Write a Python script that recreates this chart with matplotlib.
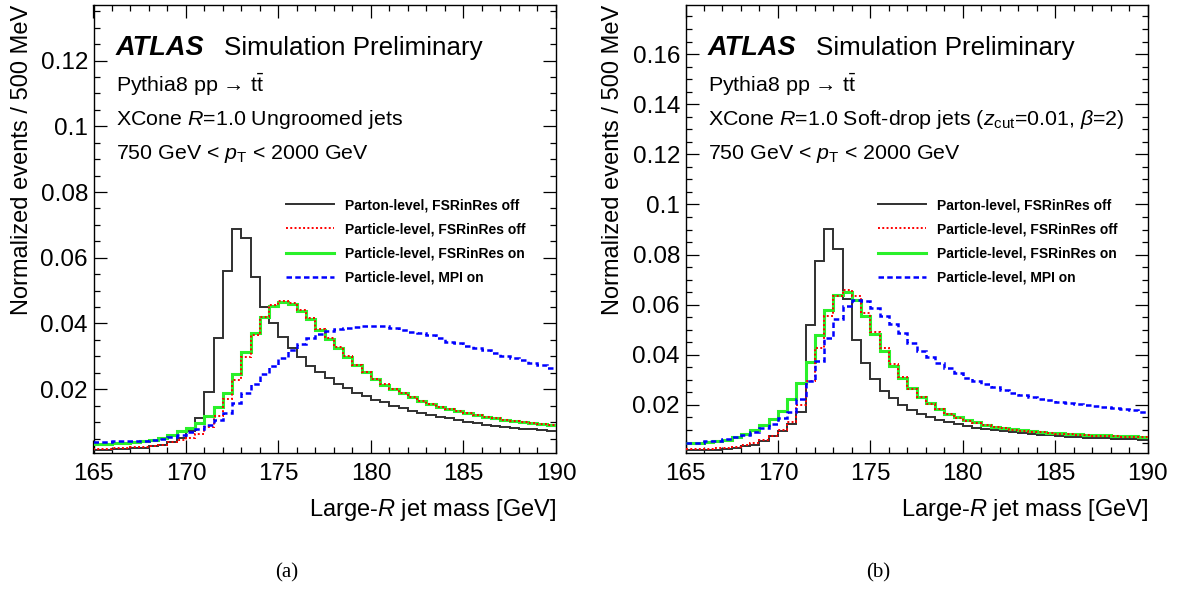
import numpy as np
import matplotlib
matplotlib.use("Agg")
import matplotlib.pyplot as plt
from matplotlib.ticker import MultipleLocator, FuncFormatter

plt.rcParams['font.family'] = ['Liberation Sans', 'DejaVu Sans']
plt.rcParams['mathtext.fontset'] = 'custom'
plt.rcParams['mathtext.rm'] = 'Liberation Sans'
plt.rcParams['mathtext.it'] = 'Liberation Sans:italic'
plt.rcParams['mathtext.bf'] = 'Liberation Sans:bold'

# ---------------- data (0.5 GeV bins, 165-190 GeV) ----------------
edges = np.arange(165.0, 190.01, 0.5)

# (a) ungroomed jets
parton_a = [0.0015, 0.0016, 0.0017, 0.0018, 0.0020, 0.0022, 0.0026, 0.0030, 0.0040, 0.0052,
            0.0073, 0.0112, 0.0193, 0.0355, 0.0560, 0.0686, 0.0659, 0.0542, 0.0451, 0.0401,
            0.0360, 0.0325, 0.0297, 0.0272, 0.0252, 0.0233, 0.0216, 0.0203, 0.0190, 0.0178,
            0.0168, 0.0160, 0.0150, 0.0142, 0.0135, 0.0128, 0.0122, 0.0116, 0.0111, 0.0106,
            0.0101, 0.0097, 0.0092, 0.0089, 0.0086, 0.0083, 0.0080, 0.0078, 0.0075, 0.0073]
fsroff_a = [0.0018, 0.0018, 0.0020, 0.0021, 0.0023, 0.0025, 0.0028, 0.0031, 0.0039, 0.0046,
            0.0053, 0.0064, 0.0086, 0.0117, 0.0170, 0.0228, 0.0299, 0.0365, 0.0420, 0.0456,
            0.0468, 0.0463, 0.0442, 0.0416, 0.0384, 0.0355, 0.0327, 0.0300, 0.0275, 0.0252,
            0.0231, 0.0215, 0.0201, 0.0189, 0.0176, 0.0165, 0.0155, 0.0147, 0.0139, 0.0133,
            0.0127, 0.0121, 0.0116, 0.0111, 0.0107, 0.0103, 0.0100, 0.0097, 0.0094, 0.0091]
fsron_a = [0.0033, 0.0034, 0.0035, 0.0036, 0.0038, 0.0041, 0.0046, 0.0053, 0.0062, 0.0072,
           0.0083, 0.0097, 0.0119, 0.0147, 0.0189, 0.0247, 0.0313, 0.0372, 0.0421, 0.0453,
           0.0464, 0.0459, 0.0438, 0.0413, 0.0380, 0.0352, 0.0325, 0.0298, 0.0273, 0.0251,
           0.0230, 0.0214, 0.0200, 0.0188, 0.0176, 0.0164, 0.0155, 0.0147, 0.0139, 0.0133,
           0.0127, 0.0121, 0.0116, 0.0111, 0.0107, 0.0103, 0.0100, 0.0097, 0.0094, 0.0091]
mpi_a = [0.0040, 0.0040, 0.0041, 0.0041, 0.0042, 0.0043, 0.0046, 0.0050, 0.0054, 0.0061,
         0.0069, 0.0079, 0.0092, 0.0107, 0.0129, 0.0157, 0.0188, 0.0216, 0.0245, 0.0270,
         0.0295, 0.0318, 0.0338, 0.0355, 0.0368, 0.0376, 0.0382, 0.0386, 0.0389, 0.0391,
         0.0392, 0.0391, 0.0385, 0.0380, 0.0375, 0.0370, 0.0365, 0.0355, 0.0345, 0.0340,
         0.0333, 0.0325, 0.0320, 0.0309, 0.0302, 0.0296, 0.0289, 0.0281, 0.0274, 0.0264]

# (b) soft-drop jets
parton_b = [0.0020, 0.0020, 0.0021, 0.0022, 0.0025, 0.0028, 0.0035, 0.0042, 0.0056, 0.0076,
            0.0095, 0.0125, 0.0170, 0.0520, 0.0776, 0.0903, 0.0823, 0.0624, 0.0460, 0.0367,
            0.0303, 0.0257, 0.0227, 0.0200, 0.0180, 0.0164, 0.0151, 0.0140, 0.0131, 0.0123,
            0.0116, 0.0109, 0.0104, 0.0099, 0.0095, 0.0091, 0.0087, 0.0084, 0.0081, 0.0079,
            0.0076, 0.0073, 0.0072, 0.0069, 0.0068, 0.0067, 0.0065, 0.0064, 0.0063, 0.0061]
fsroff_b = [0.0023, 0.0024, 0.0026, 0.0027, 0.0030, 0.0033, 0.0040, 0.0049, 0.0060, 0.0076,
            0.0100, 0.0133, 0.0200, 0.0295, 0.0427, 0.0553, 0.0633, 0.0660, 0.0633, 0.0567,
            0.0493, 0.0427, 0.0363, 0.0311, 0.0265, 0.0230, 0.0205, 0.0182, 0.0162, 0.0148,
            0.0137, 0.0128, 0.0118, 0.0111, 0.0106, 0.0101, 0.0097, 0.0093, 0.0090, 0.0087,
            0.0085, 0.0083, 0.0081, 0.0079, 0.0078, 0.0077, 0.0075, 0.0074, 0.0073, 0.0072]
fsron_b = [0.0047, 0.0048, 0.0052, 0.0055, 0.0060, 0.0071, 0.0084, 0.0100, 0.0120, 0.0143,
           0.0177, 0.0223, 0.0286, 0.0373, 0.0480, 0.0580, 0.0637, 0.0649, 0.0620, 0.0553,
           0.0484, 0.0416, 0.0357, 0.0309, 0.0267, 0.0233, 0.0209, 0.0185, 0.0165, 0.0151,
           0.0140, 0.0131, 0.0120, 0.0113, 0.0108, 0.0103, 0.0099, 0.0095, 0.0092, 0.0089,
           0.0087, 0.0084, 0.0083, 0.0081, 0.0080, 0.0079, 0.0077, 0.0076, 0.0075, 0.0073]
mpi_b = [0.0049, 0.0050, 0.0055, 0.0058, 0.0064, 0.0073, 0.0080, 0.0093, 0.0107, 0.0123,
         0.0147, 0.0170, 0.0225, 0.0296, 0.0376, 0.0467, 0.0544, 0.0596, 0.0620, 0.0616,
         0.0588, 0.0555, 0.0521, 0.0488, 0.0449, 0.0415, 0.0393, 0.0369, 0.0347, 0.0328,
         0.0309, 0.0296, 0.0283, 0.0271, 0.0260, 0.0249, 0.0240, 0.0232, 0.0225, 0.0219,
         0.0213, 0.0208, 0.0204, 0.0200, 0.0196, 0.0192, 0.0188, 0.0184, 0.0180, 0.0173]

labels = ["Parton-level, FSRinRes off", "Particle-level, FSRinRes off",
          "Particle-level, FSRinRes on", "Particle-level, MPI on"]

panels = [
    dict(series=[parton_a, fsroff_a, fsron_a, mpi_a], ymax=0.137, ymin=0.0005,
         jets="XCone $R$=1.0 Ungroomed jets", tag="(a)", x0=93.5, x1=556.0,
         ylab_x=22, tag_x=287),
    dict(series=[parton_b, fsroff_b, fsron_b, mpi_b], ymax=0.1797, ymin=0.0007,
         jets=r"XCone $R$=1.0 Soft-drop jets ($z_{\mathrm{cut}}$=0.01, $\beta$=2)",
         tag="(b)", x0=685.5, x1=1147.7, ylab_x=613, tag_x=878),
]

W, H = 1183, 590
Y0, Y1 = 4.7, 453.3

fig = plt.figure(figsize=(W / 100, H / 100), dpi=100)
fig.patch.set_facecolor('white')

styles = [
    dict(color='#303030', lw=1.4, ls='-', zorder=3),
    dict(color='#ff0000', lw=1.4, ls=(0, (1, 1.2)), zorder=5),
    dict(color='#2af02a', lw=2.2, ls='-', zorder=4),
    dict(color='#0000ff', lw=1.8, ls=(0, (2.2, 1.3)), zorder=6),
]

for p in panels:
    ax = fig.add_axes([p['x0'] / W, 1 - Y1 / H, (p['x1'] - p['x0']) / W, (Y1 - Y0) / H])
    handles = []
    for vals, st, lab in zip(p['series'], styles, labels):
        ax.stairs(vals, edges, label=lab, baseline=None, **st)
        handles.append(plt.Line2D([], [], color=st['color'], lw=st['lw'], ls=st['ls']))

    ax.set_xlim(165, 190)
    ax.set_ylim(p['ymin'], p['ymax'])
    ax.xaxis.set_major_locator(MultipleLocator(5))
    ax.xaxis.set_minor_locator(MultipleLocator(1))
    ax.yaxis.set_major_locator(MultipleLocator(0.02))
    ax.yaxis.set_minor_locator(MultipleLocator(0.005))
    ax.yaxis.set_major_formatter(FuncFormatter(lambda v, pos: f"{v:g}"))
    ax.tick_params(which='both', direction='in', top=True, right=True, width=0.9)
    ax.tick_params(which='major', length=9.5, labelsize=17.5)
    ax.tick_params(which='minor', length=4.5)
    ax.tick_params(axis='x', pad=7)
    ax.tick_params(axis='y', pad=4)
    for sp in ax.spines.values():
        sp.set_linewidth(1.0)

    w = p['x1'] - p['x0']

    def axc(px, py):
        return (px - p['x0']) / w, (Y1 - py) / (Y1 - Y0)

    tx, ty = axc(p['x0'] + 22, 55)
    ax.text(tx, ty, "ATLAS", transform=ax.transAxes, fontsize=19.5,
            fontweight='bold', fontstyle='italic', va='baseline', ha='left')
    tx2, _ = axc(p['x0'] + 130, 55)
    ax.text(tx2, ty, "Simulation Preliminary", transform=ax.transAxes,
            fontsize=18.7, va='baseline', ha='left')
    for py, txt in [(92, r"Pythia8 pp → $\mathrm{t\bar{t}}$"),
                    (125, p['jets']),
                    (159, r"750 GeV < $p_{\mathrm{T}}$ < 2000 GeV")]:
        tx, ty = axc(p['x0'] + 23, py)
        ax.text(tx, ty, txt, transform=ax.transAxes, fontsize=15.4,
                va='baseline', ha='left')

    lx, ly = axc(p['x0'] + 192, 198)
    ax.legend(handles, labels, loc='upper left', bbox_to_anchor=(lx, ly),
              frameon=False, borderpad=0, borderaxespad=0,
              prop=dict(weight='bold', size=10), handlelength=3.5,
              handletextpad=0.75, labelspacing=0.74)

    fig.text(p['x1'] / W, 1 - 510 / H, "Large-$R$ jet mass [GeV]",
             fontsize=17, ha='right', va='center')
    fig.text(p['ylab_x'] / W, 1 - Y0 / H, "Normalized events / 500 MeV",
             fontsize=17, rotation=90, ha='center', va='top')
    fig.text(p['tag_x'] / W, 1 - 573 / H, p['tag'], fontsize=15,
             family='Liberation Serif', ha='center', va='center')

fig.savefig("out.png", dpi=100, facecolor='white')
